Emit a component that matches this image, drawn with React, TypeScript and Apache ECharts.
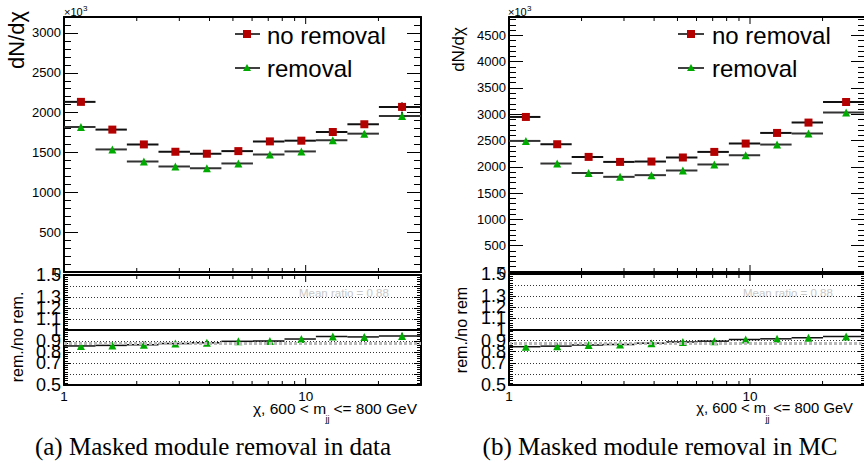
import React, { useEffect, useRef } from "react";
import * as echarts from "echarts";

// ---------- data ----------
const binEdges = [1, 1.35, 1.82, 2.46, 3.32, 4.48, 6.05, 8.17, 11.02, 14.88, 20.09, 30];

// (a) data
const noRemovalData = [2135, 1787, 1601, 1509, 1484, 1517, 1639, 1648, 1757, 1854, 2072];
const removalData = [1820, 1538, 1387, 1324, 1303, 1362, 1475, 1513, 1652, 1736, 1958];
const noRemovalDataErr = [14, 12, 10, 10, 10, 11, 13, 16, 20, 30, 55];
const removalDataErr = [13, 11, 10, 9, 9, 10, 12, 15, 19, 28, 50];
const ratioData = [0.855, 0.86, 0.865, 0.877, 0.885, 0.897, 0.9, 0.918, 0.94, 0.937, 0.945];
const ratioDataErr = [0.008, 0.008, 0.008, 0.009, 0.009, 0.009, 0.01, 0.012, 0.015, 0.02, 0.03];
const meanRatioData = 0.88;

// (b) MC
const noRemovalMC = [2949, 2430, 2189, 2094, 2101, 2178, 2284, 2443, 2645, 2842, 3233];
const removalMC = [2493, 2063, 1885, 1810, 1842, 1931, 2045, 2221, 2424, 2633, 3032];
const noRemovalMCErr = [8, 7, 6, 6, 6, 7, 8, 9, 11, 14, 20];
const removalMCErr = [8, 7, 6, 6, 6, 7, 8, 9, 11, 13, 19];
const ratioMC = [0.845, 0.85, 0.86, 0.865, 0.877, 0.887, 0.895, 0.91, 0.916, 0.926, 0.938];
const ratioMCErr = [0.004, 0.004, 0.004, 0.004, 0.004, 0.004, 0.005, 0.005, 0.006, 0.007, 0.008];
const meanRatioMC = 0.88;

const minorTicksX = [2, 3, 4, 5, 6, 7, 8, 9, 20];
const majorTicksX = [10];

const FONT = "'Liberation Sans', Arial, Helvetica, sans-serif";
const SERIF = "'Liberation Serif', 'Times New Roman', serif";
const RED = "#b30000";
const GREEN = "#00aa00";

const binCenters = binEdges.slice(0, -1).map((e, i) => (e + binEdges[i + 1]) / 2);

const grids = [
  { left: 64, top: 17, width: 357, height: 255 },
  { left: 64, top: 275, width: 357, height: 110 },
  { left: 509, top: 17, width: 356, height: 255 },
  { left: 509, top: 274, width: 356, height: 111 },
];

function measure(text: string, size: number) {
  const ctx = document.createElement("canvas").getContext("2d");
  if (!ctx) return text.length * size * 0.55;
  ctx.font = `${size}px 'Liberation Sans', Arial, sans-serif`;
  return ctx.measureText(text).width;
}

function xAxesFor(gi: number, showLabels: boolean) {
  const base: any = {
    gridIndex: gi,
    type: "log",
    logBase: 10,
    min: 1,
    max: 30,
    splitLine: { show: false },
    axisTick: { show: false },
    minorTick: { show: false },
    axisLine: { show: true, onZero: false, lineStyle: { color: "#000", width: 2 } },
  };
  return [
    {
      ...base,
      position: "bottom",
      axisLabel: showLabels
        ? {
            show: true,
            margin: 4,
            fontSize: 13.5,
            color: "#000",
            fontFamily: FONT,
            showMinLabel: true,
            formatter: (v: number) =>
              Math.abs(v - 1) < 1e-6 ? "1" : Math.abs(v - 10) < 1e-6 ? "10" : "",
          }
        : { show: false },
    },
    { ...base, position: "top", axisLabel: { show: false } },
  ];
}

function yAxesFor(
  gi: number,
  min: number,
  max: number,
  majorInt: number,
  minorInt: number,
  majorLen: number,
  minorLen: number,
  fontSize: number,
  formatter: (v: number) => string,
  dotted: boolean
) {
  const line = { show: true, onZero: false, lineStyle: { color: "#000", width: 2 } };
  const common: any = { gridIndex: gi, type: "value", min, max };
  const majorTick = { show: true, inside: true, length: majorLen, lineStyle: { color: "#000", width: 1 } };
  const minorTick = { show: true, inside: true, length: minorLen, lineStyle: { color: "#000", width: 1 } };
  return [
    {
      ...common,
      position: "left",
      interval: majorInt,
      axisLine: line,
      axisTick: majorTick,
      splitLine: dotted
        ? { show: true, lineStyle: { color: "#333", width: 1, type: [1, 2] } }
        : { show: false },
      axisLabel: {
        show: true,
        margin: 3,
        fontSize,
        color: "#000",
        fontFamily: FONT,
        formatter,
        showMinLabel: true,
        showMaxLabel: true,
        hideOverlap: false,
      },
    },
    {
      ...common,
      position: "left",
      interval: minorInt,
      axisLine: { show: false },
      axisTick: minorTick,
      splitLine: { show: false },
      axisLabel: { show: false },
    },
    {
      ...common,
      position: "right",
      interval: majorInt,
      axisLine: line,
      axisTick: majorTick,
      splitLine: { show: false },
      axisLabel: { show: false },
    },
    {
      ...common,
      position: "right",
      interval: minorInt,
      axisLine: { show: false },
      axisTick: minorTick,
      splitLine: { show: false },
      axisLabel: { show: false },
    },
  ];
}

function errSeries(gi: number, values: number[], errs: number[], color: string, width: number) {
  return {
    type: "custom",
    xAxisIndex: 2 * gi,
    yAxisIndex: 4 * gi,
    silent: true,
    z: 2,
    data: values.map((v, i) => [binEdges[i], binEdges[i + 1], binCenters[i], v, errs[i]]),
    encode: { x: [0, 1, 2], y: 3 },
    renderItem: (_p: any, api: any) => {
      const y = api.value(3);
      const e = api.value(4);
      const lo = api.coord([api.value(0), y]);
      const hi = api.coord([api.value(1), y]);
      const t = api.coord([api.value(2), y + e]);
      const b = api.coord([api.value(2), y - e]);
      return {
        type: "group",
        children: [
          { type: "line", shape: { x1: lo[0], y1: lo[1], x2: hi[0], y2: hi[1] }, style: { stroke: color, lineWidth: width } },
          { type: "line", shape: { x1: t[0], y1: t[1], x2: b[0], y2: b[1] }, style: { stroke: color, lineWidth: width } },
        ],
      };
    },
  };
}

function tickSeries(gi: number, yMin: number, yMax: number) {
  const data = [
    ...minorTicksX.map((v) => [v, yMin, 0]),
    ...majorTicksX.map((v) => [v, yMin, 1]),
  ];
  return {
    type: "custom",
    xAxisIndex: 2 * gi,
    yAxisIndex: 4 * gi,
    silent: true,
    z: 5,
    data,
    encode: { x: 0, y: 1 },
    renderItem: (_p: any, api: any) => {
      const x = api.value(0);
      const len = api.value(2) === 1 ? 7 : 4;
      const b = api.coord([x, yMin]);
      const t = api.coord([x, yMax]);
      return {
        type: "group",
        children: [
          { type: "line", shape: { x1: b[0], y1: b[1], x2: b[0], y2: b[1] - len }, style: { stroke: "#000", lineWidth: 1 } },
          { type: "line", shape: { x1: t[0], y1: t[1], x2: t[0], y2: t[1] + len }, style: { stroke: "#000", lineWidth: 1 } },
        ],
      };
    },
  };
}

function scatter(gi: number, values: number[], symbol: string, color: string, size: number, extra: any = {}) {
  return {
    type: "scatter",
    xAxisIndex: 2 * gi,
    yAxisIndex: 4 * gi,
    symbol,
    symbolSize: size,
    itemStyle: { color, opacity: 1 },
    z: 3,
    silent: true,
    data: values.map((v, i) => [binCenters[i], v]),
    ...extra,
  };
}

function ratioMarkLine(mean: number) {
  return {
    markLine: {
      silent: true,
      symbol: ["none", "none"],
      label: { show: false },
      data: [
        { yAxis: mean, lineStyle: { color: "#b8b8b8", width: 3, type: [3, 2] } },
        { yAxis: 1.0, lineStyle: { color: "#000", width: 2, type: "solid" } },
      ],
    },
  };
}

const topFmt = (v: number) => (Math.abs(v % 500) < 1e-6 ? String(Math.round(v)) : "");
const ratioFmt = (v: number) => {
  const r = Math.round(v * 10) / 10;
  if (Math.abs(v - r) > 1e-6) return "";
  return Math.abs(r - 1) < 1e-9 ? "1" : r.toFixed(1);
};

function xTitle(xRight: number, size: number) {
  const rightText = " <= 800 GeV";
  const subText = "jj";
  const subSize = 9;
  const wRight = measure(rightText, size);
  const wSub = measure(subText, subSize);
  const base = { fontFamily: FONT, fill: "#000", verticalAlign: "middle", align: "right" };
  return [
    { type: "text", x: xRight, y: 408, style: { ...base, text: rightText, fontSize: size } },
    { type: "text", x: xRight - wRight + 0.5, y: 419, style: { ...base, text: subText, fontSize: subSize } },
    { type: "text", x: xRight - wRight - wSub + 1, y: 408, style: { ...base, text: "χ, 600 < m", fontSize: size } },
  ];
}

function legendItems(lineX0: number, lineX1: number, markX: number, textX: number) {
  return [
    { type: "line", shape: { x1: lineX0, y1: 34, x2: lineX1, y2: 34 }, style: { stroke: "#000", lineWidth: 1.5 } },
    { type: "rect", shape: { x: markX - 4, y: 30, width: 8, height: 8 }, style: { fill: RED } },
    { type: "text", x: textX, y: 35, style: { text: "no removal", fontSize: 24, fontFamily: FONT, fill: "#000", verticalAlign: "middle" } },
    { type: "line", shape: { x1: lineX0, y1: 68, x2: lineX1, y2: 68 }, style: { stroke: "#000", lineWidth: 1.5 } },
    { type: "polygon", shape: { points: [[markX, 64], [markX + 4, 71], [markX - 4, 71]] }, style: { fill: GREEN } },
    { type: "text", x: textX, y: 68, style: { text: "removal", fontSize: 24, fontFamily: FONT, fill: "#000", verticalAlign: "middle" } },
  ];
}

function buildOption() {
  const xAxis = [
    ...xAxesFor(0, false),
    ...xAxesFor(1, true),
    ...xAxesFor(2, false),
    ...xAxesFor(3, true),
  ];
  const yAxis = [
    ...yAxesFor(0, 0, 3200, 500, 100, 14, 7, 13, topFmt, false),
    ...yAxesFor(1, 0.5, 1.5, 0.1, 0.02, 7, 4, 18, ratioFmt, true),
    ...yAxesFor(2, 0, 4850, 500, 100, 14, 7, 13, topFmt, false),
    ...yAxesFor(3, 0.5, 1.5, 0.1, 0.02, 7, 4, 18, ratioFmt, true),
  ];
  const series = [
    errSeries(0, noRemovalData, noRemovalDataErr, "#111", 2),
    errSeries(0, removalData, removalDataErr, "#333", 2),
    scatter(0, noRemovalData, "rect", RED, 8),
    scatter(0, removalData, "triangle", GREEN, 8),
    tickSeries(0, 0, 3200),
    errSeries(1, ratioData, ratioDataErr, "#111", 1.5),
    scatter(1, ratioData, "triangle", GREEN, 8, ratioMarkLine(meanRatioData)),
    tickSeries(1, 0.5, 1.5),
    errSeries(2, noRemovalMC, noRemovalMCErr, "#111", 2),
    errSeries(2, removalMC, removalMCErr, "#333", 2),
    scatter(2, noRemovalMC, "rect", RED, 8),
    scatter(2, removalMC, "triangle", GREEN, 8),
    tickSeries(2, 0, 4850),
    errSeries(3, ratioMC, ratioMCErr, "#111", 1.5),
    scatter(3, ratioMC, "triangle", GREEN, 8, ratioMarkLine(meanRatioMC)),
    tickSeries(3, 0.5, 1.5),
  ];
  const graphic = [
    // exponent labels
    { type: "text", x: 64, y: 12, style: { text: "×10", fontSize: 11, fontFamily: FONT, fill: "#000", verticalAlign: "middle" } },
    { type: "text", x: 83, y: 8, style: { text: "3", fontSize: 8, fontFamily: FONT, fill: "#000", verticalAlign: "middle" } },
    { type: "text", x: 508, y: 12, style: { text: "×10", fontSize: 11, fontFamily: FONT, fill: "#000", verticalAlign: "middle" } },
    { type: "text", x: 527, y: 8, style: { text: "3", fontSize: 8, fontFamily: FONT, fill: "#000", verticalAlign: "middle" } },
    // y titles
    { type: "text", x: 16, y: 11, rotation: Math.PI / 2, style: { text: "dN/dχ", fontSize: 22, fontFamily: FONT, fill: "#000", align: "right", verticalAlign: "middle" } },
    { type: "text", x: 458, y: 27, rotation: Math.PI / 2, style: { text: "dN/dχ", fontSize: 17, fontFamily: FONT, fill: "#000", align: "right", verticalAlign: "middle" } },
    { type: "text", x: 17, y: 337, rotation: Math.PI / 2, style: { text: "rem./no rem.", fontSize: 16, fontFamily: FONT, fill: "#000", align: "center", verticalAlign: "middle" } },
    { type: "text", x: 461, y: 330, rotation: Math.PI / 2, style: { text: "rem./no rem", fontSize: 16, fontFamily: FONT, fill: "#000", align: "center", verticalAlign: "middle" } },
    // mean ratio
    { type: "text", x: 299, y: 293, style: { text: "Mean ratio = 0.88", fontSize: 11.5, fontFamily: FONT, fill: "#c8c8c8", verticalAlign: "middle" } },
    { type: "text", x: 743, y: 293, style: { text: "Mean ratio = 0.88", fontSize: 11.5, fontFamily: FONT, fill: "#c8c8c8", verticalAlign: "middle" } },
    // x titles
    ...xTitle(417, 15.5),
    ...xTitle(853, 14.8),
    // legends
    ...legendItems(235, 260, 247, 267),
    ...legendItems(678, 704, 691, 712),
    // captions
    { type: "text", x: 213, y: 446, style: { text: "(a) Masked module removal in data", fontSize: 25, fontFamily: SERIF, fill: "#000", align: "center", verticalAlign: "middle" } },
    { type: "text", x: 660, y: 446, style: { text: "(b) Masked module removal in MC", fontSize: 25, fontFamily: SERIF, fill: "#000", align: "center", verticalAlign: "middle" } },
  ];
  return {
    animation: false,
    backgroundColor: "#fff",
    grid: grids.map((g) => ({ ...g, containLabel: false, outerBoundsMode: "none" })),
    xAxis,
    yAxis,
    series,
    graphic,
  };
}

export default function App() {
  const ref = useRef<HTMLDivElement>(null);
  useEffect(() => {
    const chart = echarts.init(ref.current as HTMLDivElement, undefined, { renderer: "svg" });
    chart.setOption(buildOption() as any);
    return () => chart.dispose();
  }, []);
  return (
    <div
      ref={ref}
      style={{ position: "fixed", left: 0, top: 0, width: 864, height: 463, background: "#fff" }}
    />
  );
}
